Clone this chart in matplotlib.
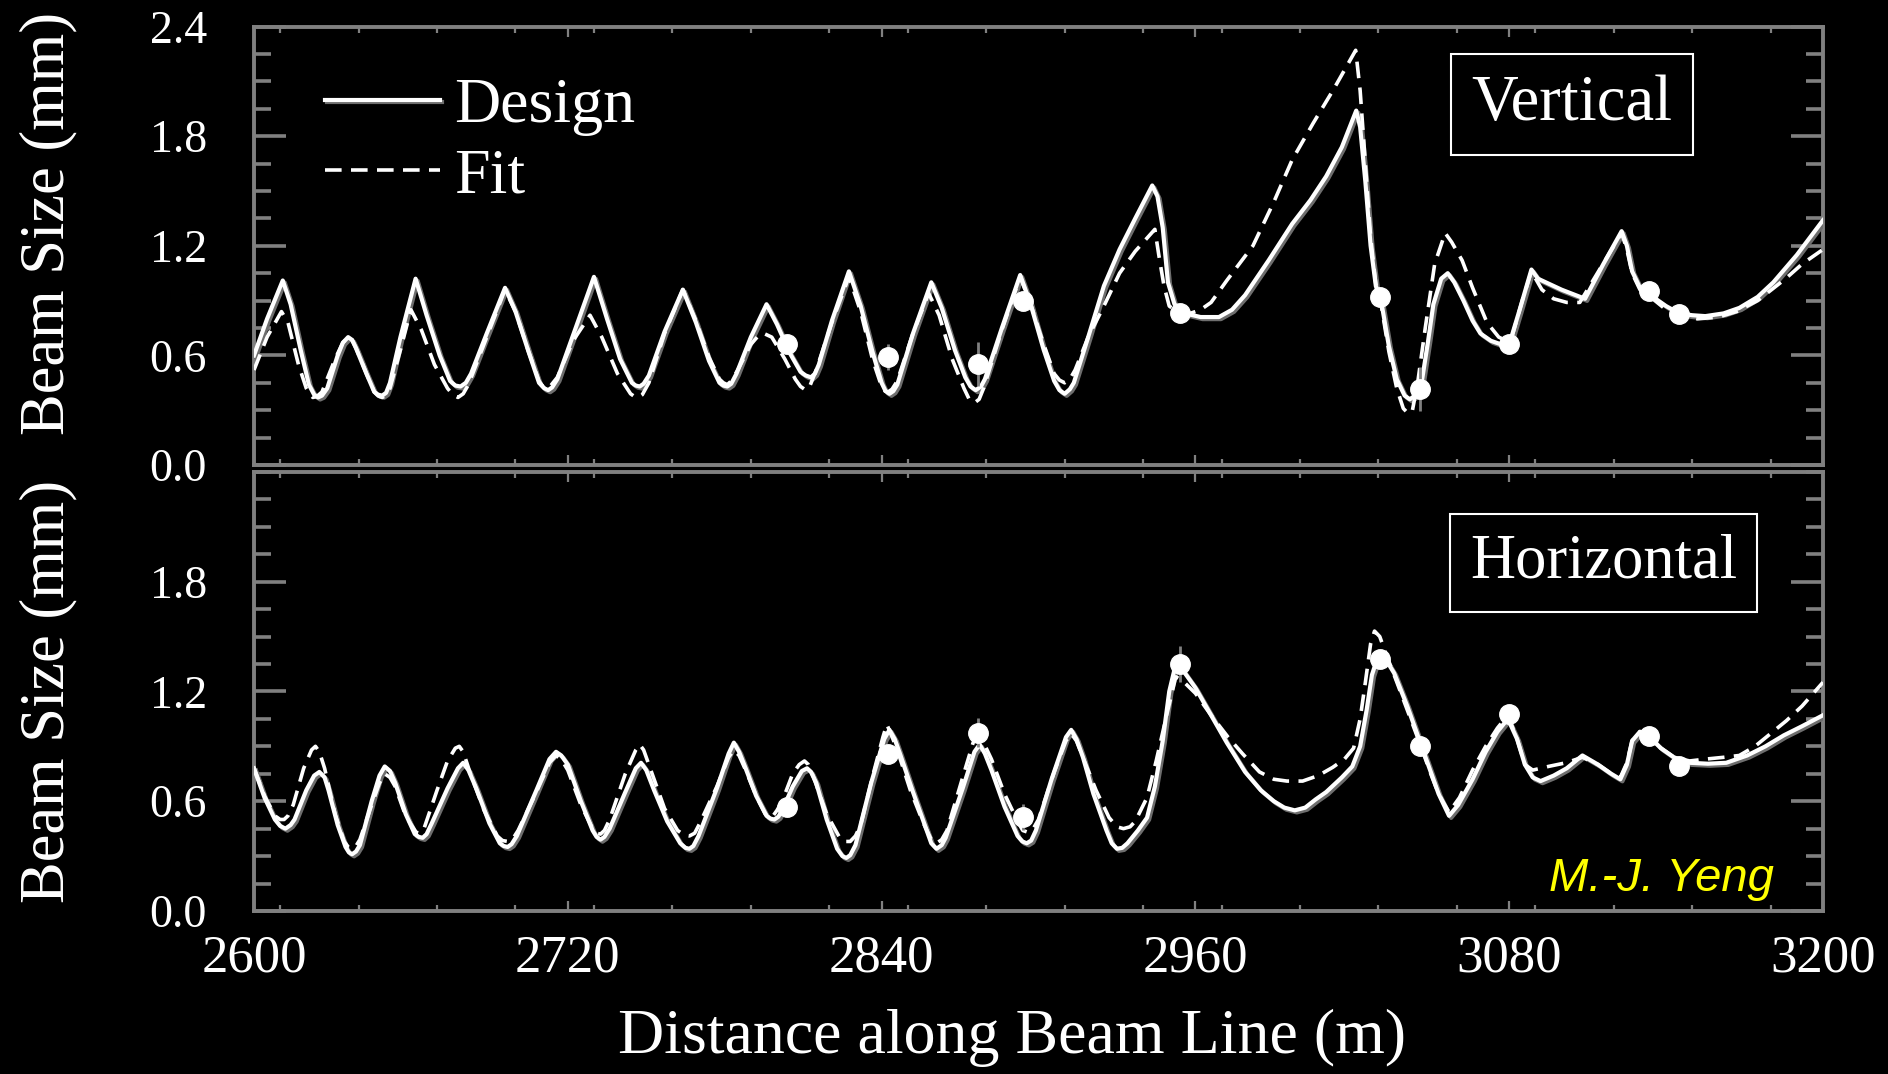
import numpy as np
import matplotlib
matplotlib.use('Agg')
from matplotlib import pyplot as plt
from matplotlib.ticker import MultipleLocator
import matplotlib.patheffects as pe

# ---- data ----
# vertical plane, design optics (solid)
vert_design_x = [2600, 2605, 2611, 2614, 2618, 2621, 2623, 2624.5, 2626, 2628, 2632, 2634, 2636, 2637.5, 2639,
                 2643, 2646, 2647.5, 2649, 2650.5, 2652, 2656, 2661.8, 2666, 2671, 2675, 2677, 2679, 2681, 2683,
                 2689, 2696, 2700, 2705, 2709, 2711, 2712.5, 2714, 2716, 2723, 2730, 2735, 2740, 2744.5, 2746,
                 2747.5, 2749, 2751, 2757, 2764, 2769, 2774, 2778, 2779.5, 2781, 2782.5, 2784.5, 2790, 2796,
                 2800, 2805, 2809, 2811, 2813, 2814.5, 2816, 2821, 2827.5, 2832, 2836.5, 2840, 2841.5, 2843,
                 2844.5, 2846, 2852, 2859, 2863, 2868, 2872, 2874, 2876, 2878, 2879.5, 2886, 2893, 2897, 2902,
                 2906, 2908, 2910, 2912, 2913.5, 2919, 2925, 2931, 2937, 2943.5, 2945.5, 2947.5, 2949.5, 2952,
                 2956, 2962, 2969, 2974, 2979, 2988, 2997, 3004, 3010, 3016, 3021.5, 3023, 3025, 3027, 3029,
                 3031, 3034, 3037, 3040, 3042, 3044, 3046.5, 3049, 3051, 3054, 3056.5, 3059, 3062.5, 3066,
                 3069, 3073, 3077, 3080, 3084, 3088.5, 3091, 3100, 3109, 3116, 3123, 3125, 3127, 3130, 3134,
                 3140, 3145, 3150, 3155, 3162, 3168, 3175, 3181, 3190, 3200]
vert_design_y = [0.60, 0.80, 1.01, 0.88, 0.62, 0.44, 0.385, 0.37, 0.38, 0.42, 0.60, 0.67, 0.70, 0.685, 0.64,
                 0.50, 0.40, 0.385, 0.38, 0.395, 0.45, 0.70, 1.02, 0.82, 0.60, 0.46, 0.435, 0.43, 0.45, 0.50,
                 0.72, 0.97, 0.84, 0.62, 0.45, 0.42, 0.41, 0.425, 0.47, 0.75, 1.03, 0.80, 0.58, 0.45, 0.435,
                 0.43, 0.445, 0.49, 0.73, 0.96, 0.78, 0.57, 0.45, 0.435, 0.43, 0.445, 0.50, 0.70, 0.88,
                 0.77, 0.61, 0.51, 0.49, 0.48, 0.50, 0.55, 0.79, 1.06, 0.87, 0.62, 0.45, 0.405, 0.39,
                 0.405, 0.44, 0.72, 1.00, 0.86, 0.63, 0.48, 0.43, 0.41, 0.43, 0.47, 0.75, 1.04, 0.88, 0.63,
                 0.46, 0.41, 0.39, 0.415, 0.45, 0.70, 0.98, 1.18, 1.35, 1.53, 1.47, 1.30, 1.00, 0.88,
                 0.83, 0.81, 0.81, 0.85, 0.93, 1.12, 1.32, 1.45, 1.58, 1.74, 1.94, 1.85, 1.55, 1.20, 0.98,
                 0.90, 0.65, 0.47, 0.38, 0.36, 0.38, 0.45, 0.68, 0.88, 1.02, 1.05, 1.00, 0.90, 0.79,
                 0.72, 0.68, 0.66, 0.66, 0.85, 1.07, 1.02, 0.96, 0.91, 1.10, 1.28, 1.20, 1.06, 0.97, 0.93,
                 0.87, 0.83, 0.82, 0.815, 0.83, 0.86, 0.92, 1.00, 1.15, 1.34]

# vertical plane, fitted optics (dashed)
vert_fit_x = [2600, 2605, 2610.5, 2613, 2617, 2620, 2621.5, 2622.5, 2624, 2626, 2631, 2634, 2636, 2637.5, 2639,
              2643, 2646, 2647.5, 2649, 2650.5, 2652, 2656, 2660, 2664, 2669, 2674, 2676, 2678, 2680, 2682,
              2689, 2696, 2700, 2705, 2709, 2710.5, 2712, 2713.5, 2716, 2722, 2728.5, 2733, 2739, 2744, 2745.5,
              2747, 2748.5, 2751, 2757, 2764, 2769, 2774, 2778, 2779.5, 2781, 2782.5, 2785, 2790, 2793, 2795,
              2798, 2803, 2807, 2809, 2811, 2812.5, 2815, 2821, 2827.5, 2832, 2836.5, 2840, 2841.3, 2842.5,
              2844, 2846, 2852, 2858, 2862, 2867, 2871.5, 2873.5, 2875.5, 2877.3, 2879, 2886, 2893, 2897,
              2902, 2906, 2908, 2910, 2912, 2914, 2919, 2925, 2931, 2937, 2944.5, 2946, 2948, 2950, 2954,
              2958, 2962, 2966, 2972, 2982, 2990, 2997, 3005, 3013, 3021.3, 3023, 3025, 3027, 3029, 3031,
              3034, 3037, 3039.5, 3041.5, 3043, 3045, 3048, 3051.5, 3055.5, 3058, 3062, 3066, 3071.5, 3076,
              3079, 3081, 3085, 3088.5, 3092.5, 3097, 3102, 3107, 3115, 3123, 3125, 3127, 3130, 3134, 3140,
              3145, 3152, 3160, 3167, 3175, 3185.7, 3192, 3200]
vert_fit_y = [0.52, 0.70, 0.84, 0.78, 0.55, 0.42, 0.385, 0.37, 0.375, 0.40, 0.58, 0.67, 0.70, 0.685, 0.64,
              0.50, 0.40, 0.378, 0.37, 0.38, 0.42, 0.63, 0.85, 0.74, 0.55, 0.42, 0.385, 0.37, 0.39, 0.44,
              0.70, 0.96, 0.84, 0.62, 0.46, 0.43, 0.42, 0.435, 0.48, 0.68, 0.82, 0.70, 0.50, 0.39, 0.375,
              0.37, 0.385, 0.45, 0.72, 0.96, 0.79, 0.59, 0.47, 0.45, 0.44, 0.46, 0.52, 0.66, 0.71, 0.72,
              0.70, 0.58, 0.47, 0.43, 0.41, 0.43, 0.52, 0.78, 1.03, 0.84, 0.58, 0.43, 0.405, 0.40,
              0.415, 0.46, 0.72, 0.94, 0.82, 0.58, 0.42, 0.36, 0.34, 0.36, 0.42, 0.74, 1.03, 0.88,
              0.66, 0.50, 0.465, 0.45, 0.47, 0.52, 0.70, 0.87, 1.05, 1.17, 1.29, 1.15, 0.98, 0.87, 0.83,
              0.83, 0.85, 0.89, 1.01, 1.20, 1.44, 1.67, 1.87, 2.06, 2.27, 2.05, 1.65, 1.25, 0.99, 0.88,
              0.62, 0.42, 0.31, 0.28, 0.30, 0.45, 0.76, 1.10, 1.27, 1.22, 1.12, 0.97, 0.78, 0.70,
              0.68, 0.70, 0.90, 1.06, 0.96, 0.91, 0.89, 0.89, 1.08, 1.27, 1.18, 1.05, 0.96, 0.92, 0.85,
              0.82, 0.80, 0.81, 0.84, 0.90, 1.02, 1.10, 1.18]

# horizontal plane, design optics (solid)
hor_design_x = [2600, 2604, 2608, 2610, 2612, 2614, 2615.5, 2620, 2623, 2625, 2627, 2628.5, 2632, 2635, 2636.3,
                2637.5, 2639, 2640.5, 2645, 2648, 2650, 2652, 2654, 2658, 2661.5, 2663, 2664.5, 2666, 2668,
                2674, 2678, 2680, 2682, 2685, 2690, 2694, 2695.5, 2697, 2698.5, 2700.5, 2708, 2713, 2715.5,
                2717.5, 2720, 2725, 2729.5, 2731, 2732.5, 2734, 2736, 2742, 2746, 2748, 2750, 2753, 2758,
                2763, 2765, 2766.5, 2768, 2770, 2777, 2781.5, 2783.5, 2785.5, 2788, 2792, 2796, 2797.5, 2799,
                2800.5, 2802, 2806, 2809.5, 2811.5, 2813, 2815, 2819, 2823, 2825, 2826.5, 2828, 2830, 2836,
                2841, 2843, 2845, 2847, 2852, 2857, 2859, 2861, 2863, 2864.5, 2871, 2875.5, 2877.5, 2879.5,
                2882, 2887, 2892, 2893.8, 2895.5, 2897.2, 2899, 2905, 2910.5, 2912.5, 2914.5, 2917, 2921,
                2926, 2928, 2930, 2932, 2934, 2938, 2941.5, 2944.5, 2947.5, 2950, 2952, 2955, 2960, 2966,
                2972, 2979, 2985, 2990, 2994, 2998, 3002, 3006, 3010, 3016, 3020, 3023, 3025.5, 3027.5, 3030,
                3033, 3036, 3041, 3046.5, 3050, 3053, 3057, 3060.5, 3066, 3071, 3075.5, 3079.5, 3083, 3086,
                3089, 3092, 3097, 3102, 3108, 3114, 3119, 3122.5, 3125, 3127, 3130, 3133, 3138, 3143,
                3149, 3156, 3163, 3171, 3178, 3185, 3192, 3200]
hor_design_y = [0.78, 0.62, 0.50, 0.465, 0.45, 0.47, 0.50, 0.66, 0.74, 0.76, 0.73, 0.66, 0.47, 0.35, 0.32,
                0.31, 0.325, 0.36, 0.60, 0.74, 0.79, 0.765, 0.70, 0.53, 0.42, 0.405, 0.40, 0.42, 0.48,
                0.67, 0.78, 0.81, 0.77, 0.67, 0.48, 0.37, 0.355, 0.35, 0.365, 0.41, 0.66, 0.83, 0.87,
                0.85, 0.80, 0.60, 0.44, 0.405, 0.39, 0.405, 0.45, 0.65, 0.78, 0.81, 0.77, 0.66, 0.49,
                0.37, 0.345, 0.34, 0.355, 0.41, 0.67, 0.86, 0.92, 0.87, 0.78, 0.63, 0.52, 0.505, 0.50,
                0.515, 0.55, 0.68, 0.765, 0.78, 0.76, 0.70, 0.50, 0.34, 0.30, 0.29, 0.305, 0.36, 0.70,
                0.94, 0.99, 0.94, 0.86, 0.65, 0.45, 0.37, 0.34, 0.36, 0.40, 0.67, 0.87, 0.91, 0.86,
                0.77, 0.57, 0.41, 0.38, 0.37, 0.385, 0.44, 0.72, 0.95, 0.99, 0.94, 0.84, 0.64,
                0.44, 0.37, 0.34, 0.345, 0.37, 0.44, 0.51, 0.68, 0.93, 1.20, 1.32, 1.32, 1.22, 1.07,
                0.92, 0.76, 0.66, 0.60, 0.565, 0.55, 0.565, 0.61, 0.65, 0.73, 0.79, 0.90, 1.10, 1.29, 1.40,
                1.37, 1.30, 1.12, 0.90, 0.76, 0.64, 0.52, 0.58, 0.72, 0.87, 0.98, 1.05, 0.94, 0.80,
                0.73, 0.71, 0.74, 0.78, 0.85, 0.80, 0.75, 0.72, 0.80, 0.93, 0.98, 0.96, 0.89, 0.84,
                0.81, 0.805, 0.81, 0.85, 0.90, 0.96, 1.01, 1.07]

# horizontal plane, fitted optics (dashed)
hor_fit_x = [2600, 2604, 2608, 2610, 2611.5, 2613, 2615, 2619, 2622, 2623.5, 2625, 2627, 2631, 2634.5, 2636,
             2637.5, 2639, 2640.5, 2645, 2648, 2650, 2652, 2654, 2658, 2662, 2663.5, 2665, 2670, 2674, 2677,
             2678.5, 2680, 2683, 2688, 2693, 2695, 2697, 2699, 2701, 2708, 2713, 2715.5, 2717.5, 2720, 2725,
             2729.5, 2731, 2732.5, 2734, 2736, 2742, 2746, 2747.5, 2749, 2752, 2757, 2762, 2764.5, 2766.5,
             2768.5, 2770.5, 2777, 2781.5, 2783.5, 2785.5, 2788, 2792, 2795.5, 2797, 2798, 2800, 2802, 2806,
             2808.5, 2810.5, 2812, 2814, 2819, 2824, 2826, 2828, 2830, 2832, 2837, 2840.5, 2842, 2843.5, 2846,
             2851, 2856, 2859, 2861, 2863, 2865, 2871, 2875, 2877, 2879, 2882, 2887, 2892, 2894, 2896, 2898,
             2900, 2906, 2910.5, 2912.5, 2914.5, 2917, 2922, 2927, 2930, 2932.5, 2935, 2937, 2941.5, 2945,
             2949, 2952.5, 2955, 2960, 2966, 2972.5, 2978, 2984.5, 2990, 2995, 3001, 3007, 3012.5, 3017,
             3020.5, 3023, 3025, 3027, 3028.5, 3030.5, 3033, 3036, 3041, 3046.5, 3050, 3053, 3057, 3061,
             3066, 3071, 3075.5, 3079.5, 3083, 3086, 3089, 3095, 3101.7, 3108, 3114, 3119, 3122.5, 3125,
             3127, 3130, 3133, 3138, 3143, 3149, 3155, 3162, 3168, 3174, 3180, 3186, 3192, 3200]
hor_fit_y = [0.78, 0.63, 0.52, 0.50, 0.50, 0.52, 0.58, 0.78, 0.88, 0.90, 0.87, 0.78, 0.53, 0.38, 0.35,
             0.34, 0.355, 0.39, 0.58, 0.70, 0.75, 0.73, 0.68, 0.52, 0.43, 0.425, 0.45, 0.66, 0.82, 0.89,
             0.90, 0.87, 0.74, 0.55, 0.41, 0.385, 0.38, 0.395, 0.44, 0.65, 0.81, 0.85, 0.83, 0.77, 0.58,
             0.45, 0.425, 0.42, 0.44, 0.50, 0.75, 0.88, 0.91, 0.88, 0.76, 0.56, 0.44, 0.415, 0.41,
             0.425, 0.48, 0.68, 0.84, 0.88, 0.85, 0.77, 0.63, 0.53, 0.51, 0.51, 0.55, 0.60, 0.75,
             0.80, 0.82, 0.80, 0.73, 0.53, 0.40, 0.38, 0.38, 0.41, 0.47, 0.76, 0.95, 1.02, 0.97, 0.88,
             0.66, 0.48, 0.39, 0.37, 0.39, 0.44, 0.73, 0.92, 0.96, 0.92, 0.83, 0.64, 0.49, 0.44, 0.43, 0.45,
             0.50, 0.76, 0.93, 0.97, 0.93, 0.84, 0.66, 0.51, 0.46, 0.45, 0.46, 0.49, 0.62, 0.82,
             1.07, 1.28, 1.26, 1.19, 1.07, 0.95, 0.86, 0.76, 0.72, 0.71, 0.71, 0.74, 0.785, 0.83,
             0.89, 1.05, 1.25, 1.46, 1.53, 1.50, 1.40, 1.29, 1.10, 0.89, 0.75, 0.64, 0.54, 0.62,
             0.77, 0.90, 1.00, 1.07, 0.94, 0.80, 0.77, 0.79, 0.81, 0.84, 0.80, 0.75, 0.73, 0.81,
             0.93, 0.98, 0.96, 0.89, 0.84, 0.82, 0.83, 0.84, 0.85, 0.90, 0.97, 1.04, 1.12, 1.25]

# measured beam sizes (same monitors in both planes)
monitor_x = [2804, 2842.5, 2877, 2894, 2954, 3030.5, 3046, 3080, 3133.5, 3145]
vert_meas = [0.66, 0.59, 0.555, 0.90, 0.83, 0.92, 0.415, 0.66, 0.95, 0.826]
vert_err = [0.03, 0.07, 0.12, 0.03, 0.03, 0.03, 0.12, 0.03, 0.03, 0.03]
hor_meas = [0.57, 0.86, 0.975, 0.515, 1.35, 1.38, 0.903, 1.075, 0.957, 0.795]
hor_err = [0.03, 0.03, 0.08, 0.07, 0.10, 0.03, 0.03, 0.05, 0.03, 0.03]

x_ticks = [2600, 2720, 2840, 2960, 3080, 3200]
y_ticks_top = [0.0, 0.6, 1.2, 1.8, 2.4]
y_ticks_bottom = [0.0, 0.6, 1.2, 1.8]

# ---- styling ----
serif = 'Liberation Serif'
gray = '#808080'
shadow = [pe.SimpleLineShadow(offset=(1.5, -1.5), shadow_color='#6e6e6e', alpha=1.0), pe.Normal()]
dash = (0, (4.6, 2.6))

fig = plt.figure(figsize=(18.88, 10.74), dpi=100, facecolor='black')
ax1 = fig.add_axes([0.13453, 0.5670, 0.83104, 0.4083])
ax2 = fig.add_axes([0.13453, 0.1518, 0.83104, 0.4088])


def style_axes(ax, yticks, show_x, label_y):
    ax.set_facecolor('black')
    ax.set_xlim(2600, 3200)
    ax.set_ylim(0, 2.4)
    for s in ax.spines.values():
        s.set_color(gray)
        s.set_linewidth(2.8)
    ax.set_xticks(x_ticks)
    ax.set_yticks(yticks)
    ax.xaxis.set_minor_locator(MultipleLocator(30))
    ax.yaxis.set_minor_locator(MultipleLocator(0.15))
    ax.tick_params(axis='y', which='major', direction='in', length=23, width=2.6, color=gray,
                   left=True, right=True, labelsize=33, labelcolor='white', pad=34)
    ax.tick_params(axis='y', which='minor', direction='in', length=12, width=2.6, color=gray,
                   left=True, right=True)
    ax.tick_params(axis='x', which='major', direction='in', length=7, width=1.6, color=gray,
                   bottom=True, top=True, labelsize=38, labelcolor='white', pad=17,
                   labelbottom=show_x)
    ax.tick_params(axis='x', which='minor', direction='in', length=4, width=1.6, color=gray,
                   bottom=True, top=True)
    ax.set_yticklabels([f'{v:.1f}' for v in yticks], family=serif)
    if show_x:
        ax.set_xticklabels([str(v) for v in x_ticks], family=serif)
    ax.set_ylabel('Beam Size (mm)', fontsize=45, color='white', family=serif, va='center')
    ax.yaxis.set_label_coords(-0.1313, label_y)


style_axes(ax1, y_ticks_top, False, 0.55)
style_axes(ax2, y_ticks_bottom, True, 0.5)

# top: vertical
l_design, = ax1.plot(vert_design_x, vert_design_y, color='white', lw=3, path_effects=shadow,
                     solid_joinstyle='round', zorder=3)
l_fit, = ax1.plot(vert_fit_x, vert_fit_y, color='white', lw=2.6, linestyle=dash, zorder=3)
ax1.errorbar(monitor_x, vert_meas, yerr=vert_err, fmt='none', ecolor=gray, elinewidth=2, capsize=0, zorder=4)
ax1.plot(monitor_x, vert_meas, 'o', color='white', markersize=14, zorder=5)

# bottom: horizontal
ax2.plot(hor_design_x, hor_design_y, color='white', lw=3, path_effects=shadow,
         solid_joinstyle='round', zorder=3)
ax2.plot(hor_fit_x, hor_fit_y, color='white', lw=2.6, linestyle=dash, zorder=3)
ax2.errorbar(monitor_x, hor_meas, yerr=hor_err, fmt='none', ecolor=gray, elinewidth=2, capsize=0, zorder=4)
ax2.plot(monitor_x, hor_meas, 'o', color='white', markersize=14, zorder=5)

leg = ax1.legend([l_design, l_fit], ['Design', 'Fit'], loc='upper left', bbox_to_anchor=(0.045, 0.884),
                 frameon=False, prop={'family': serif, 'size': 46}, handlelength=1.8,
                 handletextpad=0.23, labelspacing=0.18, borderpad=0, borderaxespad=0)
for t in leg.get_texts():
    t.set_color('white')

box = dict(boxstyle='square,pad=0.32', facecolor='black', edgecolor='white', linewidth=1.5)
ax1.text(0.840, 0.823, 'Vertical', transform=ax1.transAxes, ha='center', va='center',
         fontsize=46.5, color='white', family=serif, bbox=box, zorder=6)
ax2.text(0.860, 0.793, 'Horizontal', transform=ax2.transAxes, ha='center', va='center',
         fontsize=45, color='white', family=serif, bbox=box, zorder=6)

ax2.text(0.897, 0.046, 'M.-J. Yeng', transform=ax2.transAxes, ha='center', va='baseline',
         fontsize=34, color='#ffff00', style='italic', family='Liberation Sans', zorder=6)

fig.text(0.536, 0.0335, 'Distance along Beam Line (m)', ha='center', va='center',
         fontsize=46, color='white', family=serif)

plt.savefig('out.png', dpi=100, facecolor='black')
